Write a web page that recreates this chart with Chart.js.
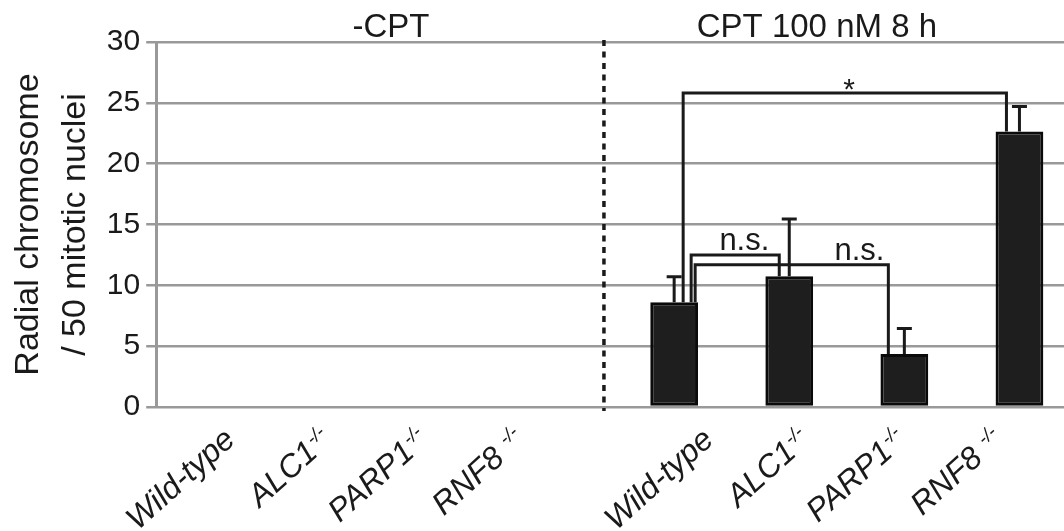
<!DOCTYPE html>
<html>
<head>
<meta charset="utf-8">
<script src="https://cdn.jsdelivr.net/npm/chart.js@4"></script>
<style>
  html, body { margin: 0; padding: 0; background: #fff; overflow: hidden; }
  #wrap { width: 1080px; height: 531px; position: relative; }
</style>
</head>
<body>
<div id="wrap"><canvas id="chart"></canvas></div>
<script>
// categories: two treatment groups of four cell lines
const lines = ['Wild-type', 'ALC1', 'PARP1', 'RNF8 '];
const lineSup = ['', '-/-', '-/-', '-/-'];
const categories = lines.concat(lines);
const groupTitles = ['-CPT', 'CPT 100 nM 8 h'];
const groupTitleAt = [1.54, 5.24];
const dividerAt = 3.39;

// radial chromosomes / 50 mitotic nuclei (mean and SD)
const means = [0, 0, 0, 0, 8.6, 10.75, 4.35, 22.65];
const sd = [0, 0, 0, 0, 2.1, 4.7, 2.1, 2.05];

// significance brackets
const sigFrom = [4, 4, 4];
const sigTo = [7, 5, 6];
const sigHeight = [25.8, 12.5, 11.7];
const sigLabel = ['*', 'n.s.', 'n.s.'];
const sigLabelAt = [5.52, 4.61, 5.61];

const yTicks = [0, 5, 10, 15, 20, 25, 30];
const yTitle = ['Radial chromosome', '/ 50 mitotic nuclei'];

const FONT = '"Liberation Sans", Arial, Helvetica, sans-serif';
const INK = '#1a1a1a';

const overlay = {
  id: 'overlay',
  afterDatasetsDraw(chart) {
    const ctx = chart.ctx;
    const x = chart.scales.x, y = chart.scales.y;
    const area = chart.chartArea;
    const meta = chart.getDatasetMeta(0);
    ctx.save();

    // dotted divider between the groups
    ctx.strokeStyle = INK;
    ctx.lineWidth = 3.5;
    ctx.setLineDash([6, 5.5]);
    const dx = x.getPixelForValue(dividerAt);
    ctx.beginPath();
    ctx.moveTo(dx, area.top - 2);
    ctx.lineTo(dx, area.bottom + 4);
    ctx.stroke();
    ctx.setLineDash([]);

    // error bars (upper only)
    ctx.lineWidth = 3;
    means.forEach((m, i) => {
      if (!m) return;
      const bx = meta.data[i].x;
      const top = y.getPixelForValue(m + sd[i]);
      ctx.beginPath();
      ctx.moveTo(bx, y.getPixelForValue(m));
      ctx.lineTo(bx, top);
      ctx.moveTo(bx - 7.5, top);
      ctx.lineTo(bx + 7.5, top);
      ctx.stroke();
    });

    // significance brackets
    const legFrom = [9, 17, 21];
    const legTo = [-13, -10, -16];
    ctx.lineWidth = 3;
    ctx.lineJoin = 'miter';
    sigFrom.forEach((a, k) => {
      const b = sigTo[k];
      const x1 = meta.data[a].x + legFrom[k];
      const x2 = meta.data[b].x + legTo[k];
      const h = y.getPixelForValue(sigHeight[k]);
      ctx.beginPath();
      ctx.moveTo(x1, y.getPixelForValue(means[a]));
      ctx.lineTo(x1, h);
      ctx.lineTo(x2, h);
      ctx.lineTo(x2, y.getPixelForValue(means[b]));
      ctx.stroke();
      ctx.fillStyle = INK;
      ctx.textAlign = 'center';
      ctx.textBaseline = 'alphabetic';
      if (sigLabel[k] === '*') {
        ctx.font = '30px ' + FONT;
        ctx.fillText(sigLabel[k], x.getPixelForValue(sigLabelAt[k]), h + 6);
      } else {
        ctx.font = '31px ' + FONT;
        ctx.fillText(sigLabel[k], x.getPixelForValue(sigLabelAt[k]), h - 5);
      }
    });

    // group titles
    ctx.font = '33px ' + FONT;
    ctx.fillStyle = INK;
    ctx.textAlign = 'center';
    groupTitles.forEach((t, k) => {
      ctx.fillText(t, x.getPixelForValue(groupTitleAt[k]), area.top - 5);
    });

    // rotated category labels with superscript genotype
    categories.forEach((c, i) => {
      const g = Math.floor(i / 4), j = i % 4;
      const tx = x.getPixelForValue(i) + 23 + 18 * g - 18.5 * j;
      const ty = area.bottom + 35;
      ctx.save();
      ctx.translate(tx, ty);
      ctx.rotate(-42 * Math.PI / 180);
      const sup = lineSup[j];
      ctx.textAlign = 'right';
      ctx.textBaseline = 'alphabetic';
      ctx.font = 'italic 19px ' + FONT;
      const sw = sup ? ctx.measureText(sup).width + 1 : 0;
      if (sup) ctx.fillText(sup, 0, -11);
      ctx.font = 'italic 32px ' + FONT;
      ctx.fillText(c, -sw, 0);
      ctx.restore();
    });

    ctx.restore();
  }
};

new Chart(document.getElementById('chart'), {
  type: 'bar',
  data: {
    labels: categories,
    datasets: [{
      data: means,
      backgroundColor: '#1e1e1e',
      borderColor: '#0a0a0a',
      borderWidth: ctx => (ctx.raw > 0 ? 3 : 0),
      borderSkipped: false,
      barPercentage: 0.415,
      categoryPercentage: 1
    }]
  },
  options: {
    responsive: true,
    maintainAspectRatio: false,
    animation: false,
    layout: { padding: { top: 42, left: 5, right: 3, bottom: 116 } },
    plugins: { legend: { display: false }, tooltip: { enabled: false } },
    scales: {
      x: {
        grid: { display: false },
        border: { display: false },
        ticks: { display: false }
      },
      y: {
        min: 0,
        max: 30,
        afterBuildTicks: s => { s.ticks = yTicks.map(v => ({ value: v })); },
        grid: { color: '#999', lineWidth: 2.5, tickLength: 10 },
        border: { color: '#999', width: 3 },
        ticks: { font: { size: 30, family: FONT }, color: INK, padding: 6 },
        title: {
          display: true,
          text: yTitle,
          font: { size: 34, family: FONT, lineHeight: 1.38 },
          color: INK,
          padding: { top: 0, bottom: 2 }
        }
      }
    }
  },
  plugins: [overlay]
});
</script>
</body>
</html>
